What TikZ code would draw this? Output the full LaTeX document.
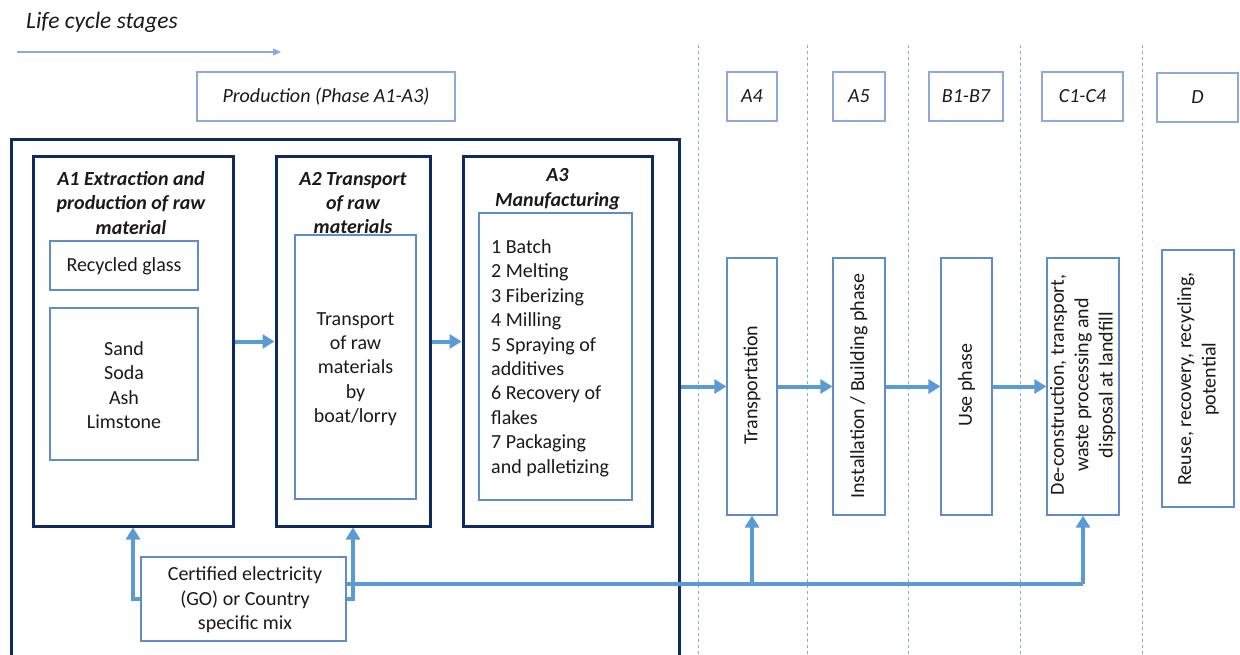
\documentclass[tikz,border=0pt]{standalone}
\usepackage{fontspec}
\setmainfont{Carlito}
\usetikzlibrary{arrows.meta}
\definecolor{navy}{HTML}{0E2A5E}
\definecolor{midblue}{HTML}{5F8DC8}
\definecolor{lightblue}{HTML}{8EAADB}
\definecolor{arrowblue}{HTML}{5B9BD5}
\definecolor{txt}{HTML}{1A1A1A}
\begin{document}
\begin{tikzpicture}[x=1pt,y=-1pt,
  every node/.style={font=\fontsize{20}{24.4}\selectfont, text=txt},
  lbl/.style={inner sep=0pt, align=center},
  navybox/.style={draw=navy, line width=3pt, inner sep=0pt},
  inbox/.style={draw=midblue, line width=1.2pt, inner sep=0pt},
  hdrbox/.style={draw=lightblue, line width=1.2pt, inner sep=0pt, minimum height=49pt, font=\fontsize{20}{24.4}\selectfont\itshape},
  ttl/.style={inner sep=0pt, align=center, font=\fontsize{20}{24.4}\selectfont\bfseries\itshape},
  barrow/.style={draw=arrowblue, line width=4pt, -{Triangle[length=12pt,width=14pt]}},
  bline/.style={draw=arrowblue, line width=4pt},
  sep/.style={draw=lightblue, line width=0.8pt, dash pattern=on 3pt off 3pt}
]
\useasboundingbox (0,0) rectangle (1240,655);
\clip (0,0) rectangle (1240,655);

% title and life-cycle arrow
\node[lbl, anchor=west, font=\fontsize{23.5}{28}\selectfont\itshape] (life) at (26,22) {Life cycle stages};
\coordinate (ls) at (17,52);
\coordinate (le) at (281,52);
\draw[draw=lightblue, line width=1.2pt, -{Triangle[length=8pt,width=7pt]}] (ls) -- (le);

% dashed separators
\foreach \x/\n in {698/s1, 807/s2, 908/s3, 1020/s4, 1142/s5} {
  \coordinate (\n t) at (\x,45);
  \coordinate (\n b) at (\x,660);
  \draw[sep] (\n t) -- (\n b);
}

% header boxes
\node[hdrbox, minimum width=258pt] (hprod) at (326,96.5) {Production (Phase A1-A3)};
\node[hdrbox, minimum width=50pt] (ha4) at (752,96.5) {A4};
\node[hdrbox, minimum width=52pt] (ha5) at (859,96.5) {A5};
\node[hdrbox, minimum width=74pt] (hb) at (966,96.5) {B1-B7};
\node[hdrbox, minimum width=81pt] (hc) at (1082.5,96.5) {C1-C4};
\node[hdrbox, minimum width=81pt] (hd) at (1197.5,97.5) {D};

% production outer box
\node[navybox, minimum width=668pt, minimum height=540pt, anchor=north west] (prod) at (10,138) {};

% A1
\node[navybox, minimum width=200pt, minimum height=369pt] (a1) at (133,341.5) {};
\node[ttl] (a1t) at (131,203) {A1 Extraction and\\production of raw\\material};
\node[inbox, minimum width=148pt, minimum height=49pt] (glass) at (124,265.5) {};
\node[lbl] (glasst) at (124,266) {Recycled glass};
\node[inbox, minimum width=148pt, minimum height=152pt] (sand) at (124,384) {};
\node[lbl] (sandt) at (124,385) {Sand\\Soda\\Ash\\Limstone};

% A2
\node[navybox, minimum width=154pt, minimum height=369pt] (a2) at (353,341.5) {};
\node[ttl] (a2t) at (353,203) {A2 Transport\\of raw\\materials};
\node[inbox, minimum width=121pt, minimum height=264pt] (a2in) at (355.5,367) {};
\node[lbl] (a2int) at (355.5,369) {Transport\\of raw\\materials\\by\\boat/lorry};

% A3
\node[navybox, minimum width=189pt, minimum height=369pt] (a3) at (557.5,341.5) {};
\node[ttl] (a3t) at (557.5,189) {A3\\Manufacturing};
\node[inbox, minimum width=153pt, minimum height=287pt] (a3in) at (555.5,356.5) {};
\node[inner sep=0pt, align=left, anchor=west] (a3int) at (491,358) {1 Batch\\2 Melting\\3 Fiberizing\\4 Milling\\5 Spraying of\\additives\\6 Recovery of\\flakes\\7 Packaging\\and palletizing};

% electricity
\node[inbox, minimum width=205pt, minimum height=84pt] (elec) at (243.5,599) {};
\node[lbl] (elect) at (245,600) {Certified electricity\\(GO) or Country\\specific mix};

% later stages
\node[inbox, minimum width=50pt, minimum height=257pt] (trans) at (752,386.5) {};
\node[lbl, rotate=90] (transt) at (752,385) {Transportation};
\node[inbox, minimum width=52pt, minimum height=257pt] (inst) at (859,386.5) {};
\node[lbl, rotate=90] (instt) at (859,386) {Installation / Building phase};
\node[inbox, minimum width=51pt, minimum height=257pt] (use) at (966.5,386.5) {};
\node[lbl, rotate=90] (uset) at (966.5,385) {Use phase};
\node[inbox, minimum width=72pt, minimum height=257pt] (dec) at (1083,386.5) {};
\node[lbl, rotate=90] (dect) at (1083,385) {De-construction, transport,\\waste processing and\\disposal at landfill};
\node[inbox, minimum width=72pt, minimum height=257pt] (reuse) at (1198,378.5) {};
\node[lbl, rotate=90] (reuset) at (1198,379) {Reuse, recovery, recycling,\\potential};

% arrows
\draw[barrow] (a1.east) -- (a2.west);
\draw[barrow] (a2.east) -- (a3.west);
\draw[barrow] (prod.east |- trans.west) -- (trans.west);
\draw[barrow] (trans.east) -- (inst.west);
\draw[barrow] (inst.east) -- (use.west);
\draw[barrow] (use.east) -- (dec.west);

\draw[barrow] (elec.west) -| (a1.south);
\draw[barrow] (elec.east) -| (a2.south);
\coordinate (busy) at (0,584);
\draw[bline] (elec.east |- busy) -- (dec.south |- busy);
\draw[barrow] (trans.south |- busy) -- (trans.south);
\draw[barrow] (dec.south |- busy) -- (dec.south);
\end{tikzpicture}
\end{document}
